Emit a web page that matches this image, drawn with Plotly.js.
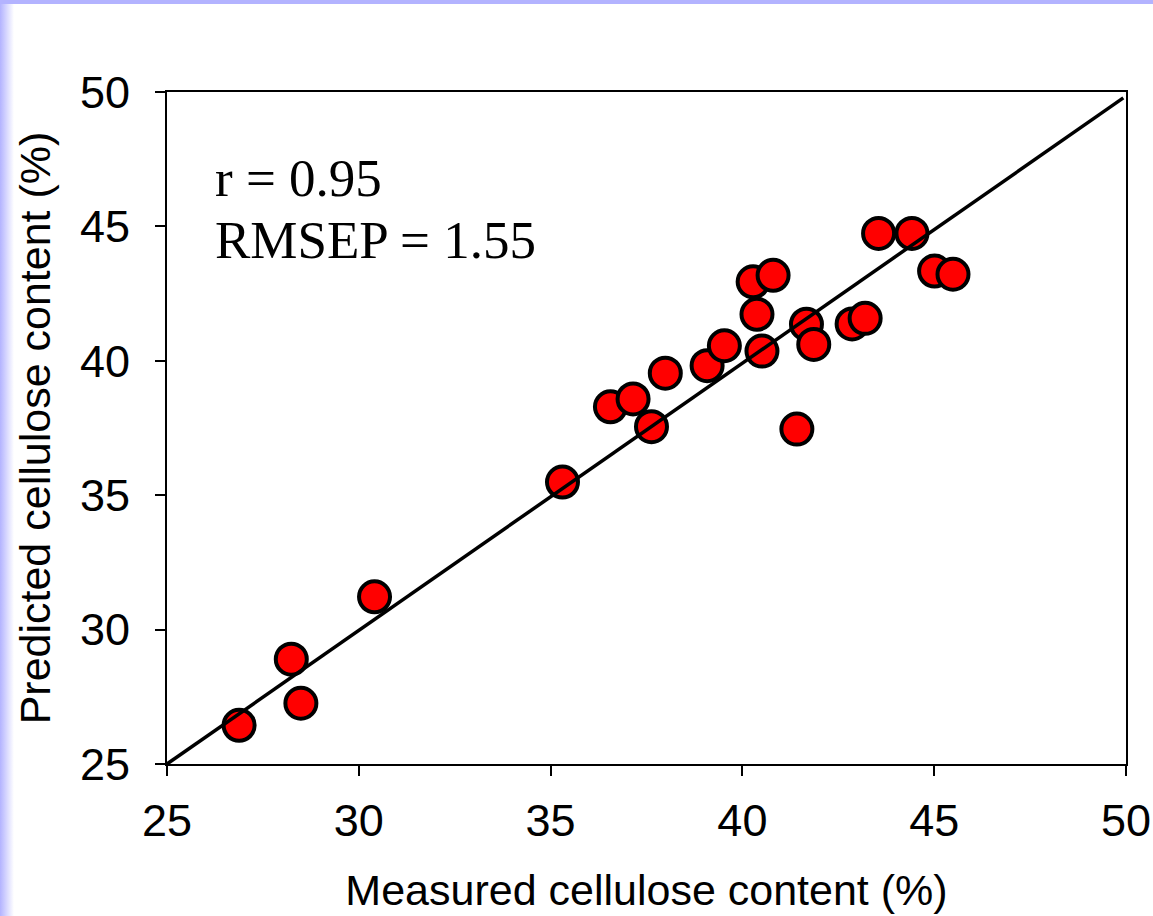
<!DOCTYPE html>
<html>
<head>
<meta charset="utf-8">
<script src="https://cdn.plot.ly/plotly-3.0.1.min.js"></script>
<style>
html, body { margin: 0; padding: 0; width: 1153px; height: 916px; overflow: hidden; }
body {
  background:
    linear-gradient(to bottom, #b3b3ff 0px, #b3b3ff 4px, rgba(255,255,255,0) 4px),
    linear-gradient(to right, #b3b3ff 0px, #ffffff 14px);
}
#chart { width: 1153px; height: 916px; }
</style>
</head>
<body>
<div id="chart"></div>
<script>
// Measured vs predicted cellulose content (%)
const measured = [26.88, 28.24, 28.49, 30.41, 35.31, 36.56, 37.15, 37.63, 37.99, 39.08, 39.53, 40.28,
                  40.38, 40.51, 40.80, 41.42, 41.67, 41.86, 42.86, 43.20, 43.55, 44.42, 45.01, 45.49];
const predicted = [26.44, 28.90, 27.26, 31.22, 35.49, 38.29, 38.58, 37.55, 39.54, 39.82, 40.56, 42.94,
                   41.73, 40.36, 43.18, 37.46, 41.36, 40.61, 41.37, 41.58, 44.74, 44.74, 43.34, 43.22];
// Reference line
const lineX = [25, 49.93];
const lineY = [25, 49.78];
const tickVals = [25, 30, 35, 40, 45, 50];
const statsText = ["r = 0.95", "RMSEP = 1.55"];
const xTitle = "Measured cellulose content (%)";
const yTitle = "Predicted cellulose content (%)";

const tickFont = {family: "Liberation Sans, Arial, sans-serif", size: 45, color: "#000"};
const titleFont = {family: "Liberation Sans, Arial, sans-serif", size: 43, color: "#000"};
const serifFont = {family: "Liberation Serif, Times New Roman, serif", size: 53, color: "#000"};

const traces = [
  {
    x: measured, y: predicted, type: "scatter", mode: "markers",
    marker: {color: "#ff0000", size: 31, line: {color: "#000", width: 4}},
    hoverinfo: "x+y"
  },
  {
    x: lineX, y: lineY, type: "scatter", mode: "lines",
    line: {color: "#000", width: 3.5}, hoverinfo: "skip"
  }
];

const axisCommon = {
  range: [25, 50], tickvals: tickVals, ticks: "outside", ticklen: 10, tickwidth: 2, tickcolor: "#000",
  showline: true, linecolor: "#000", linewidth: 2, mirror: true, showgrid: false, zeroline: false,
  tickfont: tickFont
};

const layout = {
  width: 1153, height: 916,
  margin: {l: 167, r: 27, t: 92, b: 152},
  paper_bgcolor: "rgba(0,0,0,0)", plot_bgcolor: "rgba(0,0,0,0)",
  showlegend: false,
  xaxis: Object.assign({}, axisCommon, {
    ticklabelstandoff: 6,
    title: {text: xTitle, font: titleFont, standoff: 30}
  }),
  yaxis: Object.assign({}, axisCommon, {
    ticklabelstandoff: 16,
    title: {text: yTitle, font: titleFont, standoff: 16}
  }),
  annotations: [
    {xref: "paper", yref: "paper", x: 0.048, y: 0.872, xanchor: "left", yanchor: "middle",
     text: statsText[0], showarrow: false, font: serifFont},
    {xref: "paper", yref: "paper", x: 0.048, y: 0.78, xanchor: "left", yanchor: "middle",
     text: statsText[1], showarrow: false, font: serifFont}
  ]
};

Plotly.newPlot("chart", traces, layout, {displayModeBar: false, staticPlot: true});
</script>
</body>
</html>
